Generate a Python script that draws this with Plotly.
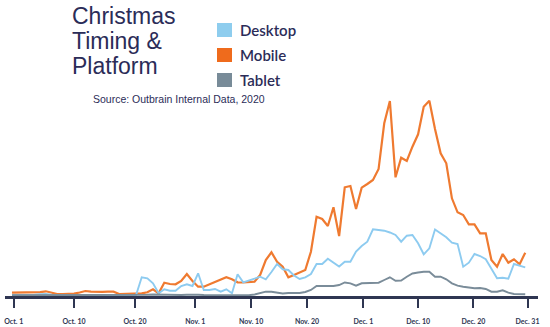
import plotly.graph_objects as go

# Daily share index per platform, Oct 1 -> Dec 31 (92 days)
days = list(range(92))

mobile = [
    4.3, 4.3, 4.3, 4.3, 4.3, 4.8, 5.7, 4.0, 3.0, 3.0,
    3.0, 3.3, 4.5, 6.0, 5.3, 5.0, 5.2, 5.3, 5.3, 3.0,
    3.0, 3.0, 3.3, 3.7, 4.7, 7.7, 3.7, 14.3, 13.0, 12.7,
    16.0, 23.0, 16.0, 10.3, 10.3, 12.7, 14.7, 17.0, 19.7, 17.7,
    14.7, 14.5, 14.7, 15.3, 22.0, 37.0, 44.7, 35.3, 30.3, 19.7,
    22.0, 24.5, 27.0, 45.3, 80.3, 78.0, 71.0, 89.7, 61.0, 109.7,
    111.0, 88.0, 109.3, 113.0, 117.0, 128.0, 173.7, 196.0, 119.7, 139.3,
    136.0, 150.3, 162.7, 190.3, 196.3, 168.0, 143.7, 133.7, 98.7, 84.7,
    82.0, 72.7, 72.7, 63.7, 63.7, 37.0, 30.3, 43.0, 34.3, 37.7,
    32.7, 44.3,
]

desktop = [
    2.0, 2.0, 2.0, 2.0, 2.2, 2.8, 3.0, 2.4, 2.0, 2.0,
    2.0, 2.0, 2.0, 2.0, 2.0, 2.3, 2.5, 2.3, 2.0, 2.0,
    2.0, 2.0, 2.0, 19.7, 18.7, 13.7, 3.7, 7.7, 6.3, 6.3,
    11.0, 12.7, 11.0, 23.7, 7.0, 7.0, 8.0, 5.3, 7.7, 3.7,
    22.7, 14.7, 16.3, 18.3, 20.3, 17.7, 25.0, 33.0, 27.7, 27.0,
    21.5, 18.0, 19.7, 23.0, 33.0, 33.0, 38.3, 34.3, 30.5, 35.3,
    35.3, 45.5, 51.0, 55.3, 67.7, 67.0, 66.3, 64.5, 62.0, 55.3,
    61.3, 62.0, 53.7, 42.7, 48.7, 67.5, 63.7, 59.7, 54.3, 53.0,
    30.3, 34.3, 43.0, 41.0, 37.7, 27.7, 18.7, 19.3, 18.3, 33.0,
    31.3, 29.7,
]

tablet = [
    1.7, 1.7, 1.7, 1.7, 1.7, 1.8, 1.8, 1.7, 1.7, 1.7,
    1.7, 1.7, 1.7, 1.7, 1.7, 1.7, 1.7, 1.7, 1.7, 1.7,
    1.7, 1.7, 1.8, 2.0, 2.2, 2.5, 2.3, 2.0, 1.8, 1.8,
    2.0, 2.3, 2.5, 2.3, 2.0, 2.0, 2.0, 2.2, 2.3, 2.2,
    2.0, 1.7, 1.8, 2.5, 4.0, 5.3, 5.3, 4.3, 3.5, 4.0,
    4.0, 4.0, 5.0, 7.0, 11.0, 11.0, 10.7, 11.0, 12.0, 14.5,
    13.7, 11.3, 13.7, 14.0, 14.0, 14.3, 17.0, 19.7, 16.3, 16.5,
    20.3, 23.5, 24.5, 25.3, 25.3, 20.3, 20.3, 17.7, 13.7, 11.3,
    10.3, 9.3, 8.7, 9.0, 8.0, 5.3, 5.3, 6.7, 4.3, 3.0,
    2.7, 2.7,
]

series_names = ["Desktop", "Mobile", "Tablet"]
line_colors = {"Desktop": "#8DCBF0", "Mobile": "#EF7A30", "Tablet": "#7A8C99"}
swatch_colors = {"Desktop": "#8ECDEE", "Mobile": "#EF6B1C", "Tablet": "#788B98"}

tick_labels = ["Oct. 1", "Oct. 10", "Oct. 20", "Nov. 1", "Nov. 10",
               "Nov. 20", "Dec. 1", "Dec. 10", "Dec. 20", "Dec. 31"]
tick_pos = [0.3, 11.0, 21.8, 32.5, 42.4, 52.3, 62.3, 72.0, 81.8, 91.4]

title_lines = ["Christmas", "Timing &", "Platform"]
source_text = "Source: Outbrain Internal Data, 2020"

NAVY = "#2B2C58"
AXIS = "#2F3652"

W, H = 550, 327
ML, MR, MT, MB = 5, 12, 0, 31
PW, PH = W - ML - MR, H - MT - MB


def px_x(px):
    return (px - ML) / PW


def px_y(py):
    return (H - MB - py) / PH


fig = go.Figure()
values = {"Desktop": desktop, "Mobile": mobile, "Tablet": tablet}
for name in ["Mobile", "Desktop", "Tablet"]:
    fig.add_trace(go.Scatter(
        x=days, y=values[name], mode="lines", name=name,
        line=dict(color=line_colors[name], width=2.2 if name == "Mobile" else 1.9),
        showlegend=False, hoverinfo="skip",
    ))

annotations = []
for k, txt in enumerate(title_lines):
    annotations.append(dict(
        text=txt, x=px_x(70), y=px_y(16 + 25 * k), xref="paper", yref="paper",
        xanchor="left", yanchor="middle", showarrow=False,
        font=dict(family="Liberation Sans, Arial", size=23, color=NAVY),
    ))

shapes = []
for k, name in enumerate(series_names):
    top = 23 + 25 * k
    shapes.append(dict(
        type="rect", xref="paper", yref="paper",
        x0=px_x(217), x1=px_x(232), y0=px_y(top), y1=px_y(top + 14),
        fillcolor=swatch_colors[name], line=dict(width=0),
    ))
    annotations.append(dict(
        text=name, x=px_x(238), y=px_y(top + 7), xref="paper", yref="paper",
        xanchor="left", yanchor="middle", showarrow=False,
        font=dict(family="Lato", size=15, color=NAVY, weight=600),
    ))

annotations.append(dict(
    text=source_text, x=px_x(178.5), y=px_y(99), xref="paper", yref="paper",
    xanchor="center", yanchor="middle", showarrow=False,
    font=dict(family="Liberation Sans, Arial", size=10.5, color=NAVY),
))

x_lo = -7 / 5.64
x_hi = x_lo + PW / 5.64

fig.update_layout(
    width=W, height=H,
    margin=dict(l=ML, r=MR, t=MT, b=MB),
    paper_bgcolor="white", plot_bgcolor="white",
    annotations=annotations, shapes=shapes,
    xaxis=dict(
        range=[x_lo, x_hi], showgrid=False, zeroline=False,
        showline=True, linecolor=AXIS, linewidth=3,
        tickmode="array", tickvals=tick_pos, ticktext=tick_labels,
        ticks="outside", ticklen=9, tickwidth=1.5, tickcolor=AXIS,
        ticklabelstandoff=8,
        tickfont=dict(family="Lato", size=7, color=AXIS, weight="bold"),
    ),
    yaxis=dict(range=[1, 297], visible=False, showgrid=False, zeroline=False),
)

fig.write_html("out.html")
